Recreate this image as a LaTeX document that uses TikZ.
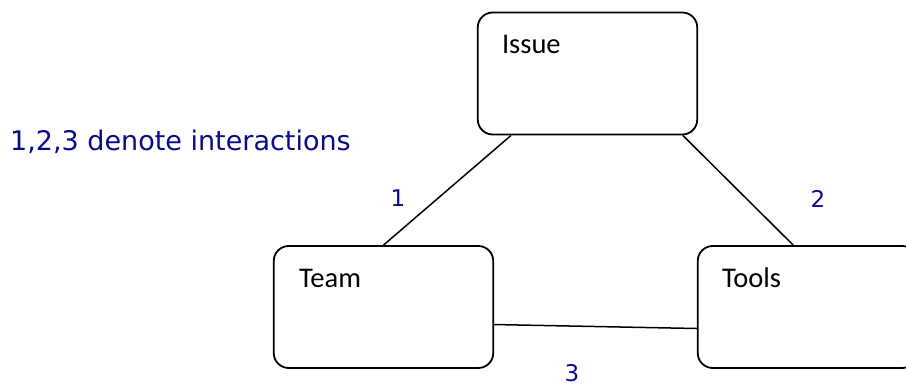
\documentclass[tikz,border=0pt]{standalone}
\usepackage{fontspec}
\setmainfont{Carlito}
\newfontfamily\notefont{DejaVu Sans}
\usepackage{tikz}
\usetikzlibrary{calc}
\usetikzlibrary{positioning}

\definecolor{notecol}{RGB}{10,10,135}

\tikzset{
  box/.style={draw, line width=1.8pt, rounded corners=15pt,
    minimum width=219.5pt, minimum height=122pt},
  boxtext/.style={anchor=base west, inner sep=0pt, font=\fontsize{28.5}{31}\selectfont},
  link/.style={line width=1.5pt},
  num/.style={text=notecol, inner sep=0pt, font=\notefont\fontsize{23}{26}\selectfont}
}

\begin{document}
\begin{tikzpicture}[x=1pt, y=1pt]

    \useasboundingbox (0, 0) rectangle (906, -388);

    % boxes
    \node [box] (issue) at (587.5, -73.5) {};
    \node [box] (team) at (383.5, -307) {};
    \node [box] (tools) at (807.5, -307) {};

    \node [boxtext] (issuetext) at ($(issue.north west) + (25, -42)$) {Issue};
    \node [boxtext] (teamtext) at ($(team.north west) + (26, -42)$) {Team};
    \node [boxtext] (toolstext) at ($(tools.north west) + (25, -42)$) {Tools};

    % interactions
    \draw [link] (issue.219.5) -- (team.north);
    \draw [link] (issue.-33.6) -- (tools.103.2);
    \draw [link] (team.-9.3) -- (tools.191.3);

    \node [num] (one) at (398, -198.5) {1};
    \node [num] (two) at (818, -198.5) {2};
    \node [num] (three) at (572, -373) {3};

    % legend
    \node [num, anchor=base west, font=\notefont\fontsize{27}{30}\selectfont]
      (legend) at (10, -150) {1,2,3 denote interactions};

  \end{tikzpicture}
\end{document}
